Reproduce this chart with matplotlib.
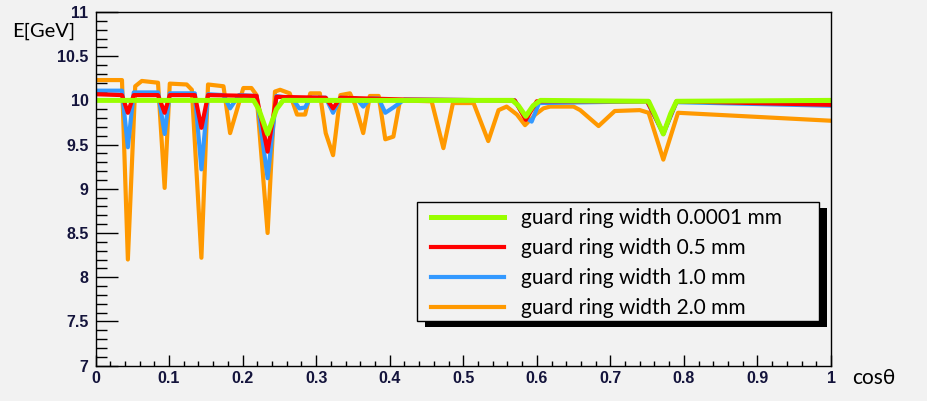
import matplotlib

matplotlib.use("Agg")
import matplotlib.pyplot as plt
from matplotlib.patches import Rectangle
from matplotlib.ticker import MultipleLocator

# energy vs cos(theta) for several guard ring widths
x_g = [0.0, 0.215, 0.222, 0.234, 0.246, 0.255, 0.567, 0.575, 0.585, 0.595, 0.605,
       0.752, 0.760, 0.772, 0.782, 0.79, 1.0]
e_g = [10.0, 10.0, 9.9, 9.62, 9.9, 10.0, 10.0, 9.94, 9.82, 9.94, 10.0,
       9.99, 9.85, 9.62, 9.85, 9.99, 10.0]

x_r = [0.0, 0.036, 0.044, 0.052, 0.085, 0.094, 0.101, 0.135, 0.144, 0.153, 0.219,
       0.234, 0.246, 0.313, 0.323, 0.333, 0.42, 0.57, 0.585, 0.600, 0.75, 0.772,
       0.79, 1.0]
e_r = [10.07, 10.06, 9.86, 10.06, 10.06, 9.86, 10.06, 10.06, 9.69, 10.06, 10.05,
       9.42, 10.04, 10.03, 9.91, 10.03, 10.01, 10.0, 9.78, 9.99, 9.99, 9.63,
       9.99, 9.95]

x_b = [0.0, 0.036, 0.044, 0.052, 0.085, 0.094, 0.101, 0.135, 0.144, 0.153, 0.174,
       0.183, 0.195, 0.219, 0.234, 0.246, 0.268, 0.277, 0.285, 0.292, 0.313, 0.323,
       0.333, 0.355, 0.364, 0.373, 0.385, 0.394, 0.405, 0.42, 0.57, 0.583, 0.593,
       0.603, 0.75, 0.772, 0.79, 1.0]
e_b = [10.11, 10.11, 9.47, 10.09, 10.09, 9.62, 10.08, 10.08, 9.22, 10.07, 10.06,
       9.91, 10.06, 10.05, 9.12, 10.05, 10.02, 9.91, 9.92, 10.03, 10.03, 9.86,
       10.03, 10.02, 9.93, 10.02, 10.02, 9.86, 9.92, 10.01, 10.0, 9.82, 9.76,
       9.97, 9.99, 9.62, 9.98, 9.94]

x_o = [0.0, 0.036, 0.044, 0.054, 0.063, 0.085, 0.094, 0.101, 0.124, 0.131, 0.144,
       0.153, 0.174, 0.183, 0.201, 0.212, 0.219, 0.234, 0.244, 0.251, 0.264, 0.274,
       0.285, 0.292, 0.305, 0.313, 0.323, 0.333, 0.346, 0.353, 0.364, 0.373, 0.385,
       0.394, 0.405, 0.414, 0.457, 0.473, 0.486, 0.514, 0.534, 0.548, 0.559, 0.573,
       0.584, 0.598, 0.609, 0.618, 0.650, 0.659, 0.684, 0.706, 0.740, 0.752, 0.772,
       0.792, 1.0]
e_o = [10.23, 10.23, 8.20, 10.16, 10.22, 10.20, 9.01, 10.19, 10.18, 10.12, 8.22,
       10.18, 10.16, 9.63, 10.14, 10.14, 10.06, 8.50, 10.10, 10.12, 10.08, 9.84,
       9.84, 10.08, 10.08, 9.63, 9.38, 10.06, 10.08, 9.95, 9.63, 10.05, 10.05,
       9.56, 9.59, 10.0, 9.99, 9.46, 9.97, 9.97, 9.54, 9.89, 9.93, 9.84,
       9.72, 9.84, 9.91, 9.93, 9.93, 9.89, 9.71, 9.88, 9.89, 9.86, 9.33,
       9.86, 9.77]

xtick_labels = ["0", "0.1", "0.2", "0.3", "0.4", "0.5", "0.6", "0.7", "0.8", "0.9", "1"]
ytick_labels = ["7", "7.5", "8", "8.5", "9", "9.5", "10", "10.5", "11"]

labels = [
    "guard ring width 0.0001 mm",
    "guard ring width 0.5 mm",
    "guard ring width 1.0 mm",
    "guard ring width 2.0 mm",
]

BG = "#f2f2f2"
W, H = 927, 401
TICK_FONT = {"family": ["Liberation Sans", "DejaVu Sans"], "weight": "bold",
             "size": 11.5, "color": "#14143c"}

fig = plt.figure(figsize=(W / 100, H / 100), dpi=100, facecolor=BG)
ax = fig.add_axes([95.5 / W, 35.4 / H, 735.5 / W, 353.6 / H])
ax.set_facecolor(BG)

lo, = ax.plot(x_o, e_o, color="#ff9900", lw=3.0)
lb, = ax.plot(x_b, e_b, color="#3399ff", lw=3.0)
lr, = ax.plot(x_r, e_r, color="#ff0000", lw=3.0)
lg, = ax.plot(x_g, e_g, color="#99ff00", lw=3.6)

ax.xaxis.set_minor_locator(MultipleLocator(0.02))
ax.yaxis.set_minor_locator(MultipleLocator(0.1))
ax.tick_params(axis="y", which="major", direction="in", length=15.8, width=1, pad=5)
ax.tick_params(axis="y", which="minor", direction="in", length=7.9, width=1)
ax.tick_params(axis="x", which="major", direction="in", length=7.6, width=1, pad=4)
ax.tick_params(axis="x", which="minor", direction="in", length=3.8, width=1)
ax.tick_params(top=False, right=False, which="both")
ax.set_xticks([0.1 * i for i in range(len(xtick_labels))])
ax.set_xticklabels(xtick_labels, fontdict=TICK_FONT)
ax.set_yticks([7 + 0.5 * i for i in range(len(ytick_labels))])
ax.set_yticklabels(ytick_labels, fontdict=TICK_FONT)
ax.set_xlim(0, 1)
ax.set_ylim(7, 11)
for s in ax.spines.values():
    s.set_linewidth(1)

fig.text(12 / W, 1 - 36.5 / H, "E[GeV]", family="Lato", fontsize=14.5, va="baseline", ha="left")
fig.text(852 / W, 1 - 384 / H, "cos\u03b8", family="Lato", fontsize=15, va="baseline", ha="left")

# legend box with a ROOT-style solid shadow
bx, by, bw, bh = 417, 202, 402, 119
fig.patches.append(Rectangle(((bx + 8) / W, 1 - (by + bh + 6) / H), bw / W, bh / H,
                             transform=fig.transFigure, facecolor="black", zorder=5))
fig.patches.append(Rectangle((bx / W, 1 - (by + bh) / H), bw / W, bh / H,
                             transform=fig.transFigure, facecolor=BG, edgecolor="black",
                             lw=1, zorder=6))
leg = fig.legend(
    [lg, lr, lb, lo], labels,
    loc="upper left", bbox_to_anchor=(431 / W, 1 - 208.5 / H), borderaxespad=0,
    prop={"family": "Lato", "size": 15}, frameon=False,
    handlelength=3.5, handletextpad=0.8, borderpad=0, labelspacing=0.48,
)
leg.set_zorder(7)

fig.savefig("out.png", dpi=100, facecolor=BG)
